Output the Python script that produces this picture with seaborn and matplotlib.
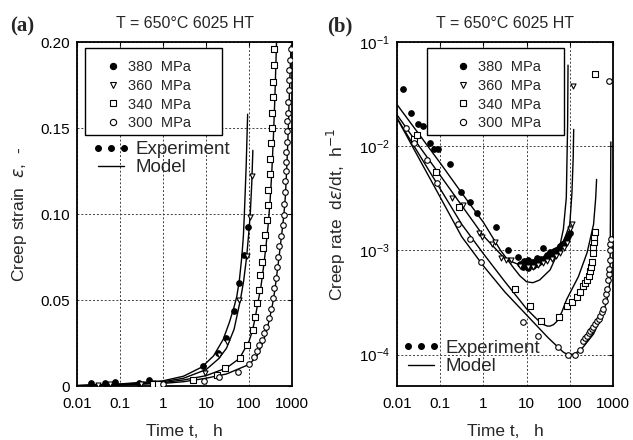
import matplotlib
matplotlib.use("Agg")
import matplotlib.pyplot as plt
import seaborn as sns
from matplotlib.lines import Line2D
from matplotlib.patches import Rectangle

stresses = ["380  MPa", "360  MPa", "340  MPa", "300  MPa"]
title_txt = "T = 650°C 6025 HT"
xticks = [0.01, 0.1, 1, 10, 100, 1000]
xticklabels = ["0.01", "0.1", "1", "10", "100", "1000"]
a_yticks = [0, 0.05, 0.10, 0.15, 0.20]
a_yticklabels = ["0", "0.05", "0.10", "0.15", "0.20"]

# (a) creep strain, experiment
a_t_380 = [0.021, 0.044, 0.078, 0.28, 0.47, 8.3, 19, 29.5, 44, 59, 76, 93]
a_e_380 = [0.0016, 0.0019, 0.0025, 0.0016, 0.0035, 0.0114, 0.0194, 0.0279, 0.0438, 0.0597, 0.0762, 0.0922]
a_t_360 = [0.03, 0.06, 0.3, 0.6, 9.6, 20, 31, 58, 88, 103, 120]
a_e_360 = [0.0008, 0.001, 0.0012, 0.0018, 0.0074, 0.018, 0.0258, 0.050, 0.0756, 0.098, 0.122]
a_t_340 = [0.57, 0.75, 5, 18, 28, 63, 89, 121, 138, 155, 174, 183, 200, 215, 240, 262,
           272, 282, 300, 313, 324, 335, 345, 355, 363, 372, 389]
a_e_340 = [0.0012, 0.0013, 0.0035, 0.0065, 0.0105, 0.0161, 0.0238, 0.0326, 0.0403, 0.048, 0.0558,
           0.0645, 0.0723, 0.080, 0.0878, 0.0965, 0.105, 0.114, 0.123, 0.132, 0.141, 0.150,
           0.1585, 0.168, 0.177, 0.1866, 0.1957]
a_t_300 = [1.0, 8.9, 20, 56, 102, 129, 155, 174, 200, 229, 251, 288, 324, 355, 389, 427, 447,
           479, 501, 560, 603, 640, 661, 680, 695, 710, 725, 740, 755, 770, 785, 800, 815,
           835, 855, 870, 890, 940]
a_e_300 = [0.001, 0.0031, 0.0054, 0.0083, 0.0128, 0.0171, 0.0205, 0.0238, 0.0267, 0.0306, 0.0345,
           0.0394, 0.045, 0.051, 0.0567, 0.0626, 0.0694, 0.0752, 0.0814, 0.0875, 0.0936, 0.0994,
           0.106, 0.113, 0.119, 0.125, 0.130, 0.136, 0.142, 0.148, 0.154, 0.159, 0.165, 0.172,
           0.178, 0.184, 0.1895, 0.196]

# (a) creep strain, model
am_t_380 = [0.01, 0.1, 1, 3, 8, 15, 25, 35, 45, 52, 60, 68, 74, 78, 86, 93]
am_e_380 = [0.0003, 0.0012, 0.003, 0.0057, 0.011, 0.0175, 0.027, 0.037, 0.046, 0.052, 0.062,
            0.075, 0.087, 0.10, 0.128, 0.158]
am_t_360 = [0.01, 0.1, 1, 3, 10, 20, 30, 45, 63, 75, 88, 98, 107, 116, 123]
am_e_360 = [0.0002, 0.001, 0.0025, 0.0045, 0.0095, 0.016, 0.022, 0.033, 0.05, 0.061, 0.075,
            0.088, 0.10, 0.118, 0.137]
am_t_340 = [0.01, 0.1, 1, 3, 10, 30, 60, 100, 120, 140, 160, 190, 220, 250, 280, 310, 340, 370, 400, 437]
am_e_340 = [0.0002, 0.0008, 0.002, 0.0035, 0.006, 0.0105, 0.016, 0.026, 0.032, 0.04, 0.048,
            0.058, 0.07, 0.082, 0.094, 0.108, 0.125, 0.145, 0.168, 0.2]
am_t_300 = [0.01, 0.1, 1, 3, 10, 30, 100, 150, 200, 250, 300, 350, 400, 450, 500, 550, 600,
            650, 700, 750, 800, 850, 900, 950]
am_e_300 = [0.0001, 0.0006, 0.0015, 0.0025, 0.0045, 0.007, 0.0125, 0.017, 0.024, 0.031, 0.039,
            0.047, 0.056, 0.066, 0.075, 0.084, 0.092, 0.10, 0.11, 0.125, 0.142, 0.162, 0.182, 0.198]

# (b) creep rate, experiment
b_t_380 = [0.0138, 0.0213, 0.031, 0.040, 0.059, 0.072, 0.089, 0.17, 0.31, 0.50, 0.72, 2.0, 3.8,
           6.2, 7.1, 8.3, 9.5, 10.5, 11.5, 12.6, 13.8, 15.1, 16.6, 18.6, 20.9, 23.4, 26.3, 29.5,
           33.1, 37.2, 41.7, 46.8, 52.5, 58.9, 66.1, 74.1, 83.2, 93.3, 100,
           8.8, 11, 13, 17.5, 22, 28, 35, 44, 56, 70, 88]
b_r_380 = [0.0355, 0.021, 0.0165, 0.0158, 0.0107, 0.0095, 0.0095, 0.0068, 0.0036, 0.0029, 0.0023,
           0.00166, 0.00102, 0.00087, 0.00074, 0.00069, 0.00076, 0.00068, 0.00072, 0.00074,
           0.00071, 0.00078, 0.00074, 0.00081, 0.00079, 0.00105, 0.00085, 0.00091, 0.00089,
           0.00095, 0.00093, 0.00102, 0.001, 0.0011, 0.00112, 0.00117, 0.00126, 0.00138, 0.00148,
           0.00079, 0.00081, 0.00077, 0.00084, 0.00083, 0.00087, 0.00097, 0.00098, 0.00106,
           0.00115, 0.00132]
b_t_360 = [0.19, 0.27, 0.34, 0.81, 0.95, 1.55, 1.9, 2.6, 3.4, 4.4, 6.9, 10.5, 14, 18, 24, 30,
           38, 48, 60, 72, 85, 100, 112, 117]
b_r_360 = [0.0032, 0.0026, 0.0027, 0.00148, 0.00135, 0.00115, 0.0012, 0.00085, 0.00081, 0.00081,
           0.00071, 0.00069, 0.00070, 0.00072, 0.00075, 0.00079, 0.00083, 0.00088, 0.00095,
           0.00105, 0.00118, 0.0016, 0.00178, 0.038]
b_t_340 = [0.025, 0.029, 0.081, 0.27, 5.5, 12.3, 22, 55, 85, 112, 145, 170, 200, 225, 251, 275,
           295, 310, 324, 339, 350, 363, 372, 380, 390]
b_r_340 = [0.0118, 0.0129, 0.0056, 0.0026, 0.00043, 0.00029, 0.00021, 0.00023, 0.00029, 0.00032,
           0.00036, 0.0004, 0.00046, 0.00049, 0.00052, 0.00057, 0.00063, 0.0007, 0.00078,
           0.00095, 0.00108, 0.0012, 0.00135, 0.0015, 0.049]
b_t_300 = [0.016, 0.025, 0.050, 0.085, 0.26, 0.5, 0.89, 8.1, 18, 53, 89, 131, 170, 200, 225,
           251, 275, 295, 320, 339, 380, 427, 470, 501, 545, 589, 646, 690, 724, 759, 790, 813,
           851, 851, 870, 891, 813]
b_r_300 = [0.0151, 0.0107, 0.0074, 0.0044, 0.0018, 0.0013, 0.00078, 0.000204, 0.000152, 0.000118,
           0.0001, 0.0001, 0.000112, 0.000135, 0.000143, 0.000151, 0.00016, 0.00017, 0.000178,
           0.000186, 0.000198, 0.00021, 0.000222, 0.000234, 0.000255, 0.000275, 0.000324,
           0.00038, 0.000427, 0.000525, 0.0006, 0.00066, 0.00081, 0.001, 0.00115, 0.0013, 0.042]

# (b) creep rate, model
bm_t_380 = [0.01, 0.0316, 0.1, 0.316, 1, 2.5, 5, 7, 10, 14, 20, 35, 56, 71, 83, 89, 91]
bm_r_380 = [0.0251, 0.0132, 0.0069, 0.00355, 0.00186, 0.001, 0.00068, 0.00057, 0.0005, 0.00049,
            0.00052, 0.00065, 0.001, 0.0016, 0.0032, 0.016, 0.06]
bm_t_360 = [0.01, 0.0316, 0.1, 0.316, 1, 3.16, 10, 20, 40, 71, 100, 112, 120, 123]
bm_r_360 = [0.020, 0.0102, 0.00525, 0.00269, 0.00138, 0.00083, 0.00068, 0.00071, 0.00089,
            0.0012, 0.00178, 0.00355, 0.0079, 0.0145]
bm_t_340 = [0.01, 0.0316, 0.1, 0.316, 1, 3.16, 10, 15, 20, 25, 30, 35, 42, 50, 65, 85, 158, 251,
            355, 398, 417]
bm_r_340 = [0.0186, 0.0085, 0.0039, 0.00178, 0.00093, 0.0005, 0.000275, 0.000232, 0.000207,
            0.000194, 0.000188, 0.000188, 0.000194, 0.000208, 0.000255, 0.00034, 0.00056, 0.00095,
            0.00178, 0.0032, 0.0048]
bm_t_300 = [0.01, 0.0316, 0.1, 0.316, 1, 3.16, 10, 31.6, 50, 70, 89, 120, 150, 200, 355, 501,
            708, 851, 871, 891]
bm_r_300 = [0.0186, 0.00776, 0.00324, 0.00135, 0.00071, 0.000398, 0.00024, 0.000145, 0.000121,
            0.000106, 0.0001, 0.000101, 0.000106, 0.000117, 0.000158, 0.000219, 0.000316, 0.0005,
            0.002, 0.011]

markers = [("o", "black"), ("v", "white"), ("s", "white"), ("o", "white")]

sns.set_theme(style="white")
plt.rcParams["font.family"] = ["Liberation Sans", "DejaVu Sans"]
plt.rcParams["mathtext.fontset"] = "dejavusans"

fig = plt.figure(figsize=(6.33, 4.4), dpi=100)
W, H = 633, 440
ax_a = fig.add_axes([77 / W, 1 - 386 / H, 215 / W, 344 / H])
ax_b = fig.add_axes([397 / W, 1 - 386 / H, 216 / W, 344 / H])

exp_a = [(a_t_380, a_e_380), (a_t_360, a_e_360), (a_t_340, a_e_340), (a_t_300, a_e_300)]
mod_a = [(am_t_380, am_e_380), (am_t_360, am_e_360), (am_t_340, am_e_340), (am_t_300, am_e_300)]
exp_b = [(b_t_380, b_r_380), (b_t_360, b_r_360), (b_t_340, b_r_340), (b_t_300, b_r_300)]
mod_b = [(bm_t_380, bm_r_380), (bm_t_360, bm_r_360), (bm_t_340, bm_r_340), (bm_t_300, bm_r_300)]

for ax, exps, mods in [(ax_a, exp_a, mod_a), (ax_b, exp_b, mod_b)]:
    ax.set_xscale("log")
    if ax is ax_b:
        ax.set_yscale("log")
    for (t, v) in mods:
        sns.lineplot(x=t, y=v, ax=ax, color="black", lw=1.0, sort=False, estimator=None, zorder=2)
    for (t, v), (m, fc) in zip(exps, markers):
        sns.scatterplot(x=t, y=v, ax=ax, marker=m, s=16 if m != "v" else 13, color=fc,
                        edgecolor="black", linewidth=0.8, zorder=3)
    ax.set_xlim(0.01, 1000)
    ax.set_xticks(xticks)
    ax.set_xticklabels(xticklabels)
    ax.minorticks_off()
    ax.grid(True, which="major", color="0.25", linestyle=(0, (2, 2)), linewidth=0.7)
    ax.set_axisbelow(True)
    for sp in ax.spines.values():
        sp.set_color("black")
        sp.set_linewidth(1.3)
    ax.tick_params(direction="in", length=3, width=0.8, labelsize=11, pad=5,
                   top=True, right=True, colors="black")
    ax.tick_params(axis="x", pad=8)
    ax.set_title(title_txt, fontsize=11.5, pad=10)
    ax.set_xlabel("Time t,   h", fontsize=12.5, labelpad=9)

    # stress legend in a white box
    x0 = (85 - 77) / 215 if ax is ax_a else (427 - 397) / 216
    x1 = (222 - 77) / 215 if ax is ax_a else (564 - 397) / 216
    ax.add_patch(Rectangle((x0, 0.730), x1 - x0, 0.253, transform=ax.transAxes,
                           facecolor="white", edgecolor="black", lw=1.0, zorder=4))
    hs = [Line2D([], [], marker=m, linestyle="none", markersize=4.5 if m != "v" else 4,
                 markerfacecolor=fc, markeredgecolor="black", markeredgewidth=0.8)
          for (m, fc) in markers]
    lx = (106 - 77) / 215 if ax is ax_a else (456 - 397) / 216
    leg1 = ax.legend(hs, stresses, loc="upper left", bbox_to_anchor=(lx, 0.948), frameon=False,
                     fontsize=10.5, handlelength=1.0, handletextpad=0.5, labelspacing=0.33,
                     borderpad=0, borderaxespad=0)
    leg1.set_zorder(5)
    ax.add_artist(leg1)

    h2 = [Line2D([], [], marker="o", linestyle="none", markersize=4, color="black"),
          Line2D([], [], color="black", lw=1.0)]
    if ax is ax_a:
        anchor = ((92 - 77) / 215, 0.712)
    else:
        anchor = ((402 - 397) / 216, 0.134)
    leg2 = ax.legend(h2, ["Experiment", "Model"], loc="upper left", bbox_to_anchor=anchor,
                     frameon=False, fontsize=13.5, numpoints=3, handlelength=2.0,
                     handletextpad=0.3, labelspacing=0.05, borderpad=0, borderaxespad=0)
    leg2.set_zorder(5)

ax_a.set_ylim(0, 0.2)
ax_a.set_yticks(a_yticks)
ax_a.set_yticklabels(a_yticklabels)
ax_a.set_ylabel("Creep strain  $\\varepsilon$,  -", fontsize=12.5, labelpad=8)

ax_b.set_ylim(5e-5, 0.1)
ax_b.set_yticks([1e-4, 1e-3, 1e-2, 1e-1])
ax_b.minorticks_off()
ax_b.set_ylabel("Creep rate  d$\\varepsilon$/dt,  h$^{-1}$", fontsize=12.5, labelpad=8)

fig.text(10 / W, 1 - 31 / H, "(a)", fontsize=15, fontweight="bold", family="Liberation Serif")
fig.text(327 / W, 1 - 31 / H, "(b)", fontsize=15, fontweight="bold", family="Liberation Serif")

fig.savefig("out.png", dpi=100)
